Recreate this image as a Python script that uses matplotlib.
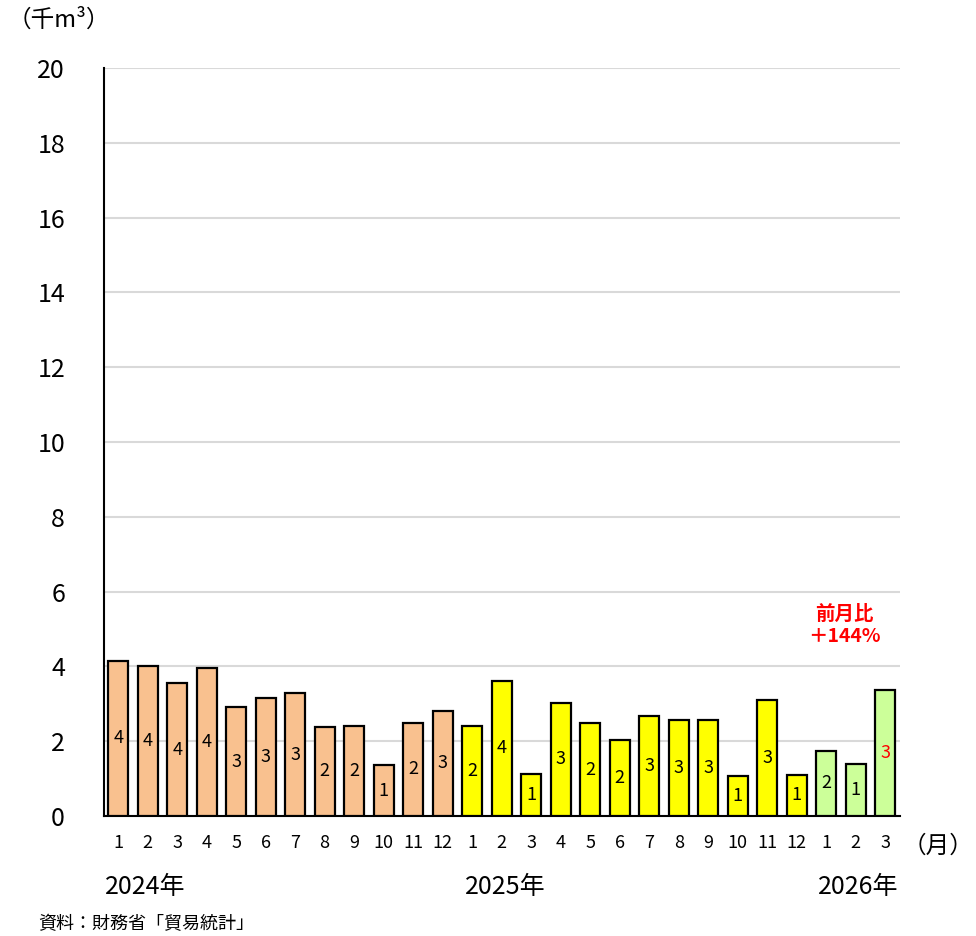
import matplotlib
matplotlib.use("Agg")
import matplotlib.pyplot as plt

plt.rcParams['font.family'] = ['Noto Sans CJK JP', 'DejaVu Sans']

months = ["1","2","3","4","5","6","7","8","9","10","11","12",
          "1","2","3","4","5","6","7","8","9","10","11","12",
          "1","2","3"]
values = [4.15, 4.02, 3.55, 3.95, 2.91, 3.16, 3.28, 2.39, 2.41, 1.36, 2.49, 2.82,
          2.40, 3.62, 1.11, 3.03, 2.48, 2.02, 2.68, 2.58, 2.58, 1.08, 3.10, 1.10,
          1.75, 1.38, 3.36]
years = ["2024年", "2025年", "2026年"]
year_counts = [12, 12, 3]
year_colors = ["#F9C18F", "#FFFF00", "#CCFF99"]
yticks = [0, 2, 4, 6, 8, 10, 12, 14, 16, 18, 20]
note_text = "前月比\n＋144%"
unit_text = "（千m³）"
month_unit = "（月）"
source_text = "資料：財務省「貿易統計」"

fig = plt.figure(figsize=(9.76, 9.36), dpi=100)
ax = fig.add_axes([104/976, 1-816/936, (900-104)/976, (816-68)/936])

colors = []
for c, n in zip(year_colors, year_counts):
    colors += [c] * n
x = list(range(len(values)))
ax.bar(x, values, width=0.68, color=colors, edgecolor='black', linewidth=1.6, zorder=3)

for i, v in enumerate(values):
    col = 'red' if i == len(values) - 1 else 'black'
    ax.text(i, v / 2, f"{round(v):d}",
            ha='center', va='center', fontsize=13, color=col, zorder=4)

ax.set_xlim(-0.48, 26.5)
ax.set_ylim(0, 20)
ax.set_yticks(yticks)
ax.set_yticklabels([str(t) for t in yticks], fontsize=18)
ax.yaxis.grid(True, color='#D9D9D9', linewidth=1.5, zorder=0)
ax.set_axisbelow(True)
ax.tick_params(axis='y', length=0, pad=28)
ax.set_xticks(x)
ax.set_xticklabels(months, fontsize=13)
ax.tick_params(axis='x', length=0, pad=13)
for s in ['top', 'right']:
    ax.spines[s].set_visible(False)
ax.spines['left'].set_linewidth(1.5)
ax.spines['bottom'].set_linewidth(1.5)
ax.spines['bottom'].set_color('black')

year_pos_px = [145, 505, 858]
for yl, px in zip(years, year_pos_px):
    fig.text(px/976, 1-887/936, yl, ha='center', va='center', fontsize=18)

fig.text(8/976, 1-20/936, unit_text, ha='left', va='center', fontsize=17)
fig.text(903/976, 1-846/936, month_unit, ha='left', va='center', fontsize=17)
fig.text(38/976, 1-924/936, source_text, ha='left', va='center', fontsize=13)
ax.text(24.6, 5.1, note_text, ha='center', va='center', fontsize=14,
        color='red', fontweight='bold', linespacing=1.25)

fig.savefig("out.png", dpi=100)
